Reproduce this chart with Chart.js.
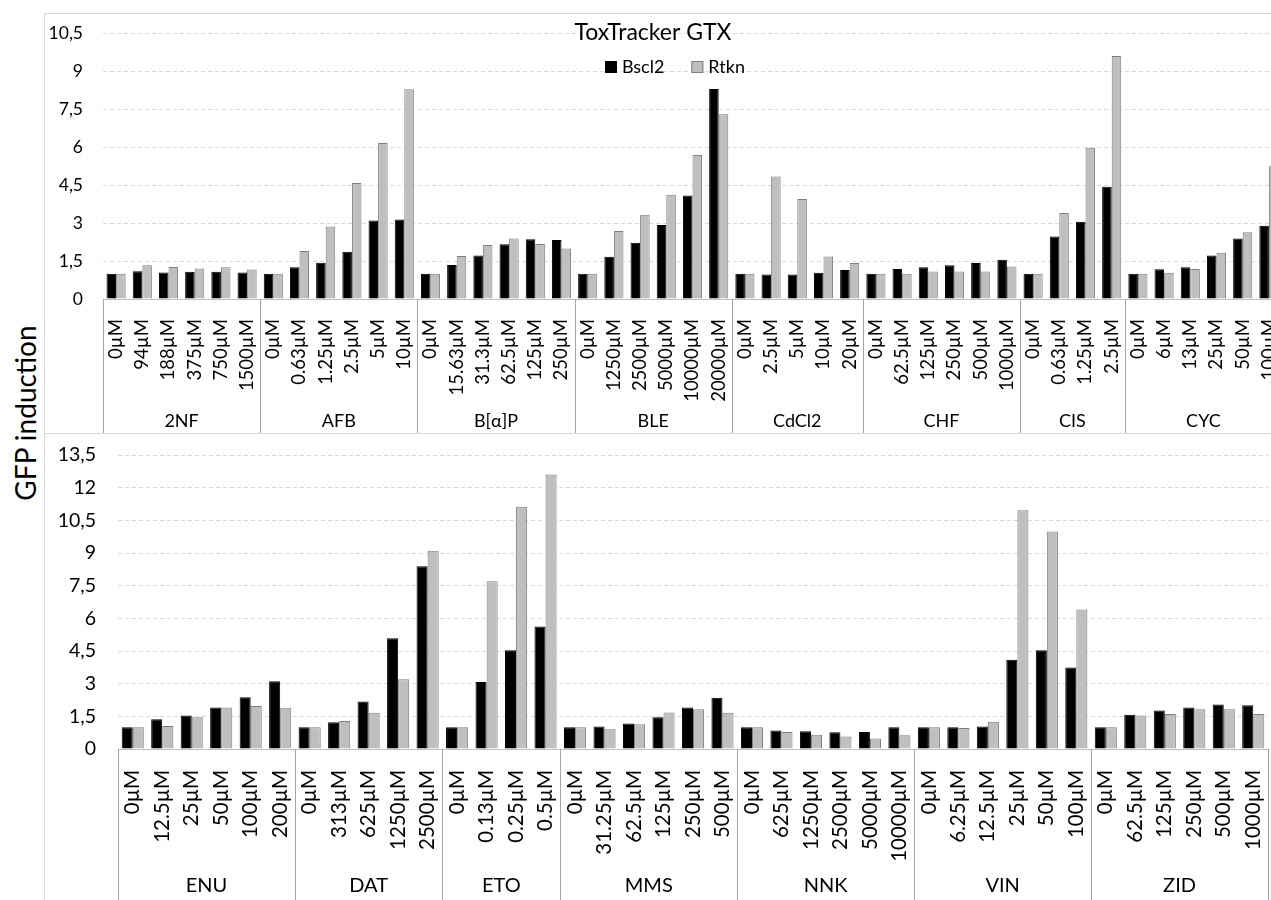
<!DOCTYPE html>
<html>
<head>
<meta charset="utf-8">
<script src="https://cdn.jsdelivr.net/npm/chart.js@4.4.1/dist/chart.umd.min.js"></script>
<style>
  html, body { margin: 0; padding: 0; background: #fff; overflow: hidden; }
  body { width: 1271px; height: 900px; position: relative; }
  .box { position: absolute; border: 1px solid #d9d9d9; box-sizing: border-box; }
  #topBox { left: 44px; top: 13px; width: 1260px; height: 421px; }
  #botBox { left: 44px; top: 433px; width: 1260px; height: 480px; }
  canvas { position: absolute; }
  #top { left: 44px; top: 13px; }
  #bottom { left: 44px; top: 433px; }
  #ytitle { position: absolute; left: 25px; top: 413px; transform: translate(-50%, -50%) rotate(-90deg);
            font: 28px Lato, "Open Sans", sans-serif; line-height: 28px; white-space: nowrap; color: #000; }
</style>
</head>
<body>
<div class="box" id="topBox"></div>
<div class="box" id="botBox"></div>
<canvas id="top" width="1245" height="420"></canvas>
<canvas id="bottom" width="1227" height="467"></canvas>
<div id="ytitle">GFP induction</div>
<script>
// top panel
const topLabels = ['0µM','94µM','188µM','375µM','750µM','1500µM',
  '0µM','0.63µM','1.25µM','2.5µM','5µM','10µM',
  '0µM','15.63µM','31.3µM','62.5µM','125µM','250µM',
  '0µM','1250µM','2500µM','5000µM','10000µM','20000µM',
  '0µM','2.5µM','5µM','10µM','20µM',
  '0µM','62.5µM','125µM','250µM','500µM','1000µM',
  '0µM','0.63µM','1.25µM','2.5µM',
  '0µM','6µM','13µM','25µM','50µM','100µM'];
const topGroups = ['2NF','AFB','B[α]P','BLE','CdCl2','CHF','CIS','CYC'];
const topGroupSizes = [6, 6, 6, 6, 5, 6, 4, 6];
const topBscl2 = [1.0,1.1,1.05,1.08,1.08,1.05,
  1.0,1.25,1.43,1.87,3.1,3.14,
  1.0,1.34,1.72,2.16,2.36,2.33,
  1.0,1.67,2.22,2.92,4.09,8.29,
  1.0,0.97,0.97,1.04,1.14,
  1.0,1.18,1.25,1.33,1.42,1.55,
  1.0,2.47,3.05,4.43,
  1.0,1.17,1.25,1.72,2.39,2.89];
const topRtkn = [1.0,1.33,1.26,1.2,1.25,1.16,
  1.0,1.89,2.86,4.58,6.16,8.28,
  1.0,1.7,2.13,2.39,2.17,1.99,
  1.0,2.68,3.33,4.12,5.68,7.29,
  1.0,4.84,3.95,1.68,1.42,
  1.0,1.0,1.09,1.09,1.09,1.28,
  1.0,3.39,5.97,9.59,
  1.0,1.04,1.18,1.83,2.63,5.24];

// bottom panel
const botLabels = ['0µM','12.5µM','25µM','50µM','100µM','200µM',
  '0µM','313µM','625µM','1250µM','2500µM',
  '0µM','0.13µM','0.25µM','0.5µM',
  '0µM','31.25µM','62.5µM','125µM','250µM','500µM',
  '0µM','625µM','1250µM','2500µM','5000µM','10000µM',
  '0µM','6.25µM','12.5µM','25µM','50µM','100µM',
  '0µM','62.5µM','125µM','250µM','500µM','1000µM'];
const botGroups = ['ENU','DAT','ETO','MMS','NNK','VIN','ZID'];
const botGroupSizes = [6, 5, 4, 6, 6, 6, 6];
const botBscl2 = [1.0,1.37,1.54,1.91,2.38,3.11,
  1.0,1.23,2.18,5.09,8.39,
  1.0,3.08,4.54,5.63,
  1.0,1.03,1.17,1.46,1.91,2.35,
  1.0,0.85,0.81,0.77,0.78,1.0,
  1.0,1.0,1.03,4.1,4.54,3.74,
  1.0,1.57,1.77,1.91,2.04,2.01];
const botRtkn = [1.0,1.06,1.46,1.91,1.97,1.89,
  1.0,1.28,1.66,3.2,9.1,
  1.0,7.7,11.12,12.61,
  1.0,0.91,1.14,1.68,1.83,1.66,
  1.0,0.78,0.65,0.57,0.48,0.63,
  1.0,0.97,1.25,10.96,9.99,6.41,
  1.0,1.54,1.61,1.83,1.83,1.61];

const FONT = 'Lato, "Open Sans", sans-serif';

// second level of the category axis: group names + separators
function groupAxis(groups, sizes, labelY, fontSize) {
  return {
    id: 'groupAxis',
    afterDraw(chart) {
      const x = chart.scales.x;
      const ctx = chart.ctx;
      const catW = x.width / chart.data.labels.length;
      ctx.save();
      ctx.strokeStyle = '#a6a6a6';
      ctx.lineWidth = 1;
      ctx.fillStyle = '#000';
      ctx.font = fontSize + 'px ' + FONT;
      ctx.textAlign = 'center';
      ctx.textBaseline = 'middle';
      let start = 0;
      const line = px => {
        ctx.beginPath();
        ctx.moveTo(Math.round(px) + 0.5, chart.chartArea.bottom);
        ctx.lineTo(Math.round(px) + 0.5, chart.height);
        ctx.stroke();
      };
      line(x.left);
      groups.forEach((g, i) => {
        const a = x.left + start * catW;
        start += sizes[i];
        const b = x.left + start * catW;
        line(b);
        ctx.fillText(g, (a + b) / 2, labelY);
      });
      ctx.restore();
    }
  };
}

const titleLegend = {
  id: 'titleLegend',
  afterDraw(chart) {
    const ctx = chart.ctx;
    ctx.save();
    ctx.fillStyle = '#000';
    ctx.font = '23px ' + FONT;
    ctx.textAlign = 'center';
    ctx.textBaseline = 'middle';
    ctx.fillText('ToxTracker GTX', 609, 20);
    ctx.font = '18px ' + FONT;
    ctx.textAlign = 'left';
    let lx = 561;
    chart.data.datasets.forEach(ds => {
      ctx.fillStyle = ds.backgroundColor;
      ctx.fillRect(lx, 48, 12, 12);
      ctx.strokeStyle = ds.borderColor;
      ctx.strokeRect(lx + 0.5, 48.5, 11, 11);
      ctx.fillStyle = '#000';
      ctx.fillText(ds.label, lx + 17, 54);
      lx += 17 + ctx.measureText(ds.label).width + 27;
    });
    ctx.restore();
  }
};

function makeChart(id, labels, b, r, cfg) {
  return new Chart(document.getElementById(id), {
    type: 'bar',
    data: {
      labels: labels,
      datasets: [
        { label: 'Bscl2', data: b, backgroundColor: '#000000', borderColor: '#000000', borderWidth: 1,
          categoryPercentage: cfg.catPct, barPercentage: 1.0 },
        { label: 'Rtkn', data: r, backgroundColor: '#bfbfbf', borderColor: '#7f7f7f', borderWidth: 1,
          categoryPercentage: cfg.catPct, barPercentage: 1.0 }
      ]
    },
    options: {
      responsive: false,
      animation: false,
      layout: { padding: { top: cfg.padTop, right: cfg.padRight, left: 0, bottom: 0 } },
      plugins: { legend: { display: false }, tooltip: { enabled: false } },
      scales: {
        x: {
          grid: { display: false },
          border: { display: true, color: '#bfbfbf', width: 1 },
          ticks: { autoSkip: false, minRotation: 90, maxRotation: 90, padding: cfg.xPad, color: '#000',
                   font: { family: FONT, size: cfg.xFont } },
          afterFit(scale) {
            scale.height = cfg.xHeight;
            scale.paddingLeft = 0;
            scale.paddingRight = 0;
          }
        },
        y: {
          min: 0, max: cfg.yMax,
          grid: { color: '#d9d9d9', lineWidth: 1, drawTicks: false },
          border: { display: false, dash: [4, 3] },
          ticks: { stepSize: 1.5, padding: cfg.yPad, color: '#000', font: { family: FONT, size: cfg.yFont },
                   callback: v => String(v).replace('.', ',') },
          afterFit(scale) {
            scale.width = cfg.yWidth;
            scale.paddingTop = 0;
            scale.paddingBottom = 0;
          }
        }
      }
    },
    plugins: cfg.plugins
  });
}

makeChart('top', topLabels, topBscl2, topRtkn, {
  catPct: 0.73, padTop: 20, padRight: 7, xHeight: 134, yWidth: 59, yPad: 20, yMax: 10.5,
  xFont: 18.5, xPad: 12, yFont: 17.5,
  plugins: [groupAxis(topGroups, topGroupSizes, 408, 18), titleLegend]
});

makeChart('bottom', botLabels, botBscl2, botRtkn, {
  catPct: 0.75, padTop: 22, padRight: 3, xHeight: 151, yWidth: 74, yPad: 22, yMax: 13.5,
  xFont: 20.5, xPad: 13, yFont: 19.5,
  plugins: [groupAxis(botGroups, botGroupSizes, 453, 20)]
});
</script>
</body>
</html>
